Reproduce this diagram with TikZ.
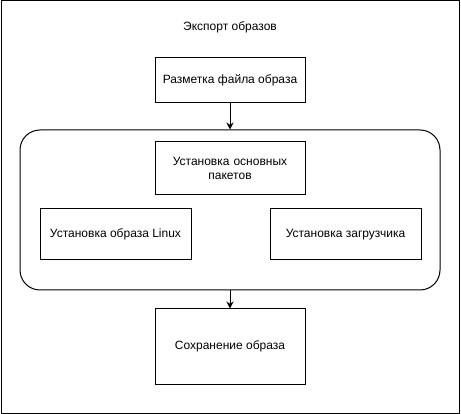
\documentclass[tikz,border=0pt]{standalone}
\usepackage{fontspec}
\setmainfont{Liberation Sans}
\usetikzlibrary{arrows.meta}

\tikzset{
  stepbox/.style={draw, line width=1pt, inner sep=0pt, align=center, font=\fontsize{12}{14}\selectfont},
  arr/.style={-{Stealth[length=7pt,width=7pt]}, line width=1pt}
}

\begin{document}
\begin{tikzpicture}[x=1pt,y=-1pt]
\useasboundingbox (0,0) rectangle (461,414);
\draw[line width=1pt] (1,1) rectangle (459,413);

\node[font=\fontsize{12}{14}\selectfont] (title) at (230,27) {Экспорт образов};

\node[stepbox, minimum width=150, minimum height=45] (razm) at (230,80.5) {Разметка файла образа};

\node[draw, line width=1pt, rounded corners=20, minimum width=420, minimum height=160] (group) at (230,210) {};

\node[stepbox, minimum width=150, minimum height=53, text width=140] (pak) at (230,168.5) {Установка основных\\пакетов};
\node[stepbox, minimum width=151, minimum height=51] (linux) at (115.5,234.5) {Установка образа Linux};
\node[stepbox, minimum width=151, minimum height=51] (boot) at (345.5,234.5) {Установка загрузчика};

\node[stepbox, minimum width=150, minimum height=75] (save) at (230,346.5) {Сохранение образа};

\draw[arr] (razm) -- (group);
\draw[arr] (group) -- (save);
\end{tikzpicture}
\end{document}
